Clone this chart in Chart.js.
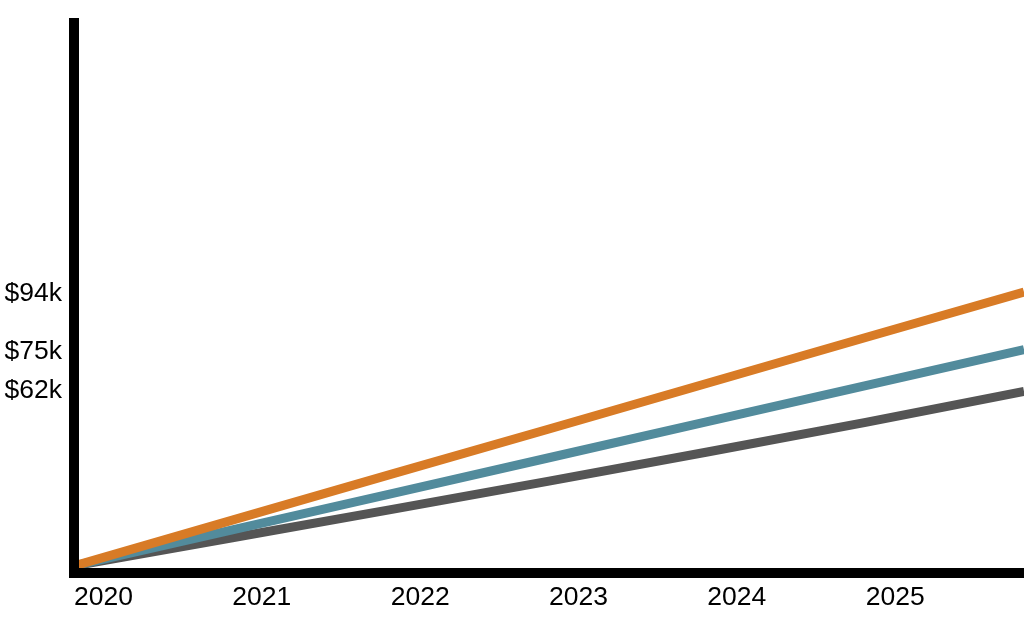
<!DOCTYPE html>
<html>
<head>
<meta charset="utf-8">
<script src="https://cdn.jsdelivr.net/npm/chart.js@4/dist/chart.umd.min.js"></script>
<style>
  html, body { margin: 0; padding: 0; background: #ffffff; }
  #wrap { width: 1024px; height: 619px; }
</style>
</head>
<body>
<div id="wrap"><canvas id="c" width="1024" height="619"></canvas></div>
<script>
// ---- data ----
const years = [2020, 2021, 2022, 2023, 2024, 2025, 2026];
const seriesHigh = [3.6, 18.7, 33.8, 48.8, 63.9, 79.0, 94.0];   // $k, orange
const seriesMid  = [3.6, 15.5, 27.4, 39.3, 51.2, 63.1, 75.0];   // $k, teal
const seriesLow  = [3.6, 12.9, 22.2, 31.6, 41.2, 51.0, 61.2];   // $k, dark gray
const yTickValues = [62, 75, 94];
const yTickLabels = ['$62k', '$75k', '$94k'];
const xTickLabels = ['2020', '2021', '2022', '2023', '2024', '2025'];

const FONT = '"Liberation Sans", Arial, sans-serif';

const toPts = arr => arr.map((v, i) => ({ x: years[i], y: v }));

new Chart(document.getElementById('c'), {
  type: 'line',
  data: {
    datasets: [
      { data: toPts(seriesHigh), borderColor: '#D87B26', borderWidth: 9, pointRadius: 0, tension: 0, fill: false },
      { data: toPts(seriesMid),  borderColor: '#528B9C', borderWidth: 9, pointRadius: 0, tension: 0, fill: false },
      { data: toPts(seriesLow),  borderColor: '#555555', borderWidth: 9, pointRadius: 0, tension: 0, fill: false }
    ]
  },
  options: {
    responsive: false,
    animation: false,
    devicePixelRatio: 1,
    layout: { padding: { top: 23, right: 0, left: 0, bottom: 0 } },
    plugins: { legend: { display: false }, tooltip: { enabled: false } },
    scales: {
      x: {
        type: 'linear',
        z: 1,
        min: 2020,
        max: 2026,
        grid: { display: false, drawTicks: false },
        border: { display: true, color: '#000000', width: 10, z: 1 },
        ticks: {
          stepSize: 1,
          autoSkip: false,
          maxRotation: 0,
          align: 'start',
          padding: 9,
          color: '#000000',
          font: { family: FONT, size: 26.5 },
          callback: (v) => { const i = years.indexOf(v); return (i >= 0 && i < xTickLabels.length) ? xTickLabels[i] : ''; }
        },
        afterFit: (s) => { s.height = 46; s.paddingLeft = 0; s.paddingRight = 0; }
      },
      y: {
        type: 'linear',
        z: 1,
        min: 1.26,
        max: 182.8,
        grid: { display: false, drawTicks: false },
        border: { display: true, color: '#000000', width: 10, z: 1 },
        afterBuildTicks: (s) => { s.ticks = yTickValues.map(v => ({ value: v })); },
        ticks: {
          padding: 12,
          labelOffset: 2,
          color: '#000000',
          font: { family: FONT, size: 26.5 },
          callback: (v) => { const i = yTickValues.indexOf(v); return i >= 0 ? yTickLabels[i] : ''; }
        },
        afterFit: (s) => { s.width = 74; s.paddingTop = 0; s.paddingBottom = 0; }
      }
    }
  }
});
</script>
</body>
</html>
